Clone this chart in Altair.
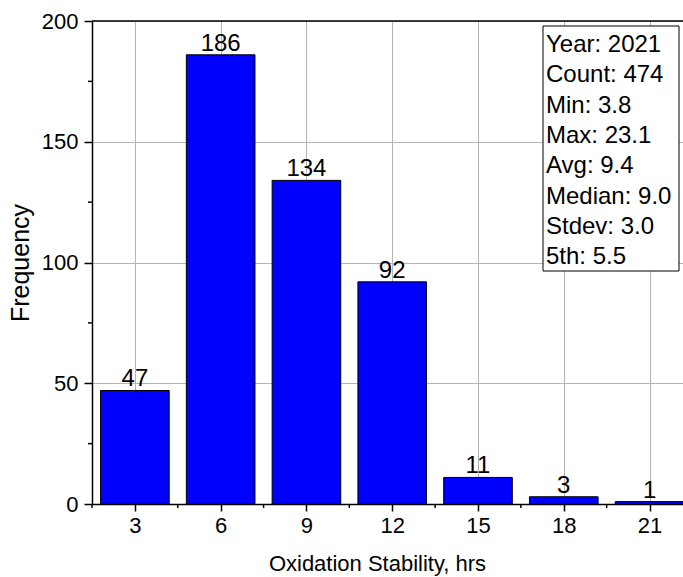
import altair as alt
import pandas as pd

# Histogram of oxidation stability (hours), 2021 samples
bin_centers = [3, 6, 9, 12, 15, 18, 21]
counts = [47, 186, 134, 92, 11, 3, 1]
stats_lines = [
    "Year: 2021",
    "Count: 474",
    "Min: 3.8",
    "Max: 23.1",
    "Avg: 9.4",
    "Median: 9.0",
    "Stdev: 3.0",
    "5th: 5.5",
]
x_major = [3, 6, 9, 12, 15, 18, 21]
x_minor = [1.5, 4.5, 7.5, 10.5, 13.5, 16.5, 19.5]
y_major = [0, 50, 100, 150, 200]
y_minor = [25, 75, 125, 175]

FONT = "Liberation Sans"
BAR_HALF = 1.2
W, H = 591, 483

bars_df = pd.DataFrame({"center": bin_centers, "count": counts})

x_scale = alt.Scale(domain=[1.5, 22.17], nice=False, zero=False)
y_scale = alt.Scale(domain=[0, 200], nice=False)

x_axis = alt.Axis(
    values=x_major, title="Oxidation Stability, hrs", grid=True,
    gridColor="#b4b4b4", gridWidth=1, domainColor="black", domainWidth=1.5,
    tickColor="black", tickWidth=1.5, tickSize=7, labelFontSize=22,
    labelFont=FONT, labelColor="black", labelPadding=4, titleFont=FONT,
    titleFontSize=22, titleFontWeight="normal", titleColor="black",
    titlePadding=17, titleX=285,
)
y_axis = alt.Axis(
    values=y_major, title="Frequency", grid=True, gridColor="#b4b4b4",
    gridWidth=1, domainColor="black", domainWidth=1.5, tickColor="black",
    tickWidth=1.5, tickSize=8, labelFontSize=22, labelFont=FONT,
    labelColor="black", labelPadding=6, titleFont=FONT, titleFontSize=25,
    titleFontWeight="normal", titleColor="black", titlePadding=8,
)

bars = alt.Chart(bars_df).transform_calculate(
    lo=f"datum.center - {BAR_HALF}", hi=f"datum.center + {BAR_HALF}"
).mark_bar(color="#0000ff", stroke="black", strokeWidth=1).encode(
    x=alt.X("lo:Q", scale=x_scale, axis=x_axis),
    x2="hi:Q",
    y=alt.Y("count:Q", scale=y_scale, axis=y_axis),
    y2=alt.datum(0),
)

labels = alt.Chart(bars_df).mark_text(
    font=FONT, fontSize=24, color="black", baseline="alphabetic", dy=-4
).encode(
    x=alt.X("center:Q", scale=x_scale),
    y=alt.Y("count:Q", scale=y_scale),
    text="count:Q",
)

# minor ticks on both axes
x_minor_ticks = alt.Chart(pd.DataFrame({"v": x_minor})).mark_rule(
    color="black", strokeWidth=1.5
).encode(x=alt.X("v:Q", scale=x_scale), y=alt.value(H), y2=alt.value(H + 4))

y_minor_ticks = alt.Chart(pd.DataFrame({"v": y_minor})).mark_rule(
    color="black", strokeWidth=1.5
).encode(y=alt.Y("v:Q", scale=y_scale), x=alt.value(-4), x2=alt.value(0))

# frame line along the top of the plot
top_line = alt.Chart(pd.DataFrame({"k": [0]})).mark_rule(
    color="black", strokeWidth=1.5
).encode(x=alt.value(0), x2=alt.value(W), y=alt.value(0))

# statistics box
box = alt.Chart(pd.DataFrame({"k": [0]})).mark_rect(
    fill="white", stroke="black", strokeWidth=1
).encode(x=alt.value(451), x2=alt.value(587), y=alt.value(5), y2=alt.value(250))

stats = alt.Chart(pd.DataFrame({"k": [0]})).mark_text(
    font=FONT, fontSize=24, color="black", align="left",
    baseline="alphabetic", lineHeight=30.3,
).encode(x=alt.value(454), y=alt.value(31), text=alt.value(stats_lines))

chart = alt.layer(
    bars, labels, x_minor_ticks, y_minor_ticks, top_line, box, stats
).properties(
    width=W, height=H,
    padding={"left": 92, "top": 21, "right": 0, "bottom": 73},
    autosize=alt.AutoSizeParams(type="none"),
).configure_view(
    strokeWidth=0
).configure(background="white")

chart.save("out.html", embed_options={"renderer": "svg", "actions": False})
